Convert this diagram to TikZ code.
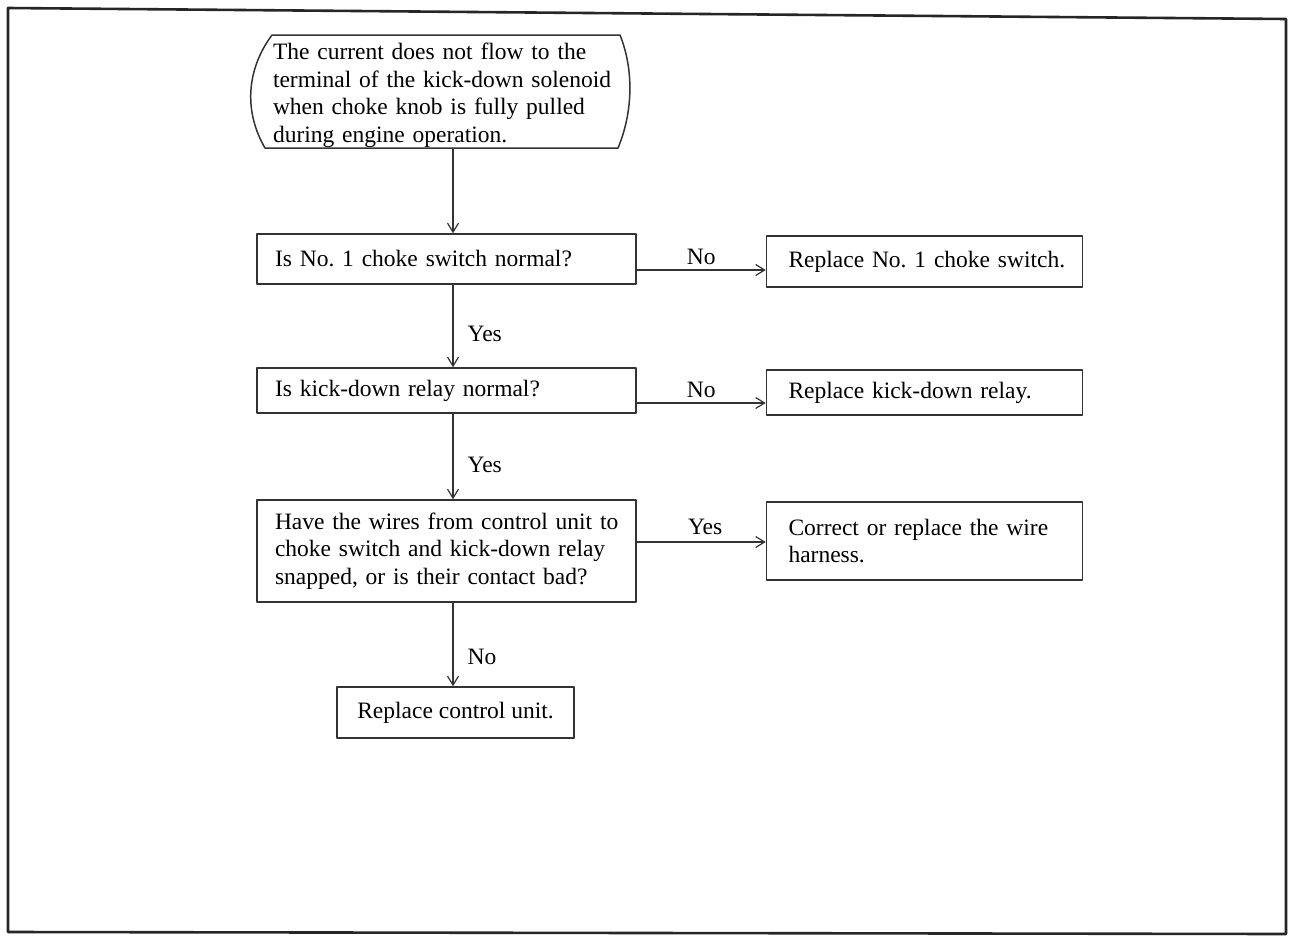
\documentclass[tikz,border=0pt]{standalone}
\usepackage{fontspec}
\setmainfont{Liberation Serif}
\usetikzlibrary{arrows.meta,calc}
\begin{document}
\begin{tikzpicture}[x=1pt,y=-1pt,
  font=\fontsize{23.5}{27.5}\selectfont,
  line join=round,
  frameline/.style={draw=black!85,line width=2.6pt},
  qbox/.style={draw=black!80,line width=1.5pt,inner ysep=0pt,inner xsep=18pt,
    text width=343pt,align=left,minimum height=#1},
  rbox/.style={draw=black!80,line width=1.5pt,inner ysep=0pt,inner xsep=22pt,
    text width=272pt,align=left,minimum height=#1},
  arr/.style={draw=black!80,line width=1.3pt,-{Straight Barb[length=9pt,width=11pt,line width=1.2pt]}},
  lbl/.style={inner sep=0pt}]
\useasboundingbox (0,0) rectangle (1294,937);
% outer frame
\draw[frameline] (8,8) -- (1286,19) -- (1286,934) -- (8,932) -- cycle;

% start terminal
\node[inner sep=0pt,text width=347pt,minimum height=105pt,align=left] (start) at (446.5,95.5)
  {\makebox[347pt][s]{The current does not flow to the}\\
   \makebox[347pt][s]{terminal of the kick-down solenoid}\\
   \makebox[347pt][s]{when choke knob is fully pulled}\\
   during engine operation.};
\draw[draw=black!80,line width=1.5pt] (272,35) -- (620,35)
  .. controls (634,70) and (633,112) .. (618,148) -- (265,148)
  .. controls (244,112) and (246,70) .. (272,35) -- cycle;

% decision boxes
\node[qbox=50pt] (q1) at (446.5,259) {\mbox{Is No.\ 1 choke switch normal?}};
\node[qbox=45pt] (q2) at (446.5,390.5) {\mbox{Is kick-down relay normal?}};
\node[qbox=102pt] (q3) at (446.5,551) {\mbox{Have the wires from control unit to}\\\mbox{choke switch and kick-down relay}\\\mbox{snapped, or is their contact bad?}};
\node[draw=black!80,line width=1.5pt,minimum width=237pt,minimum height=51pt,inner sep=0pt] (q4) at (455.5,712.5) {Replace control unit.};

% remedy boxes
\node[rbox=51pt] (r1) at (924.5,261.5) {\mbox{Replace No.\ 1 choke switch.}};
\node[rbox=45pt] (r2) at (924.5,392.5) {\mbox{Replace kick-down relay.}};
\node[rbox=78pt] (r3) at (924.5,541) {\mbox{Correct or replace the wire}\\harness.};

% vertical flow
\draw[arr] ([xshift=6.5pt]start.south) -- ([xshift=6.5pt]q1.north);
\draw[arr] ([xshift=6.5pt]q1.south) -- node[lbl,right=14pt,pos=0.6] (y1) {Yes} ([xshift=6.5pt]q2.north);
\draw[arr] ([xshift=6.5pt]q2.south) -- node[lbl,right=14pt,pos=0.6] (y2) {Yes} ([xshift=6.5pt]q3.north);
\draw[arr] ([xshift=6.5pt]q3.south) -- node[lbl,right=14pt,pos=0.65] (n3) {No} ([xshift=-2.5pt]q4.north);

% horizontal branches
\coordinate (a1) at ($(q1.east)+(0,11)$);
\coordinate (a2) at ($(q2.east)+(0,12.5)$);
\coordinate (a3) at ($(q3.east)+(0,-9)$);
\draw[arr] (a1) -- node[lbl,above=5pt,pos=0.5] (n1) {No} (a1 -| r1.west);
\draw[arr] (a2) -- node[lbl,above=5pt,pos=0.5] (n2) {No} (a2 -| r2.west);
\draw[arr] (a3) -- node[lbl,above=7pt,pos=0.53] (y3) {Yes} (a3 -| r3.west);
\end{tikzpicture}
\end{document}
